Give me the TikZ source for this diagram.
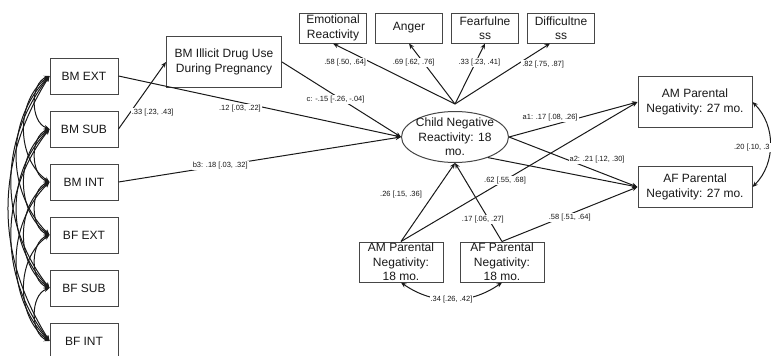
\documentclass[tikz,border=0pt]{standalone}
\usepackage{fontspec}
\setmainfont{Liberation Sans}
\usetikzlibrary{arrows.meta,positioning,shapes.geometric}
\definecolor{ink}{RGB}{25,25,25}
\definecolor{frame}{RGB}{70,70,70}
\tikzset{
  every picture/.style={color=ink, line width=1pt},
  box/.style={draw=frame, fill=white, inner sep=2pt, align=center, font=\fontsize{12}{14.5}\selectfont},
  obs/.style={box, minimum width=68pt, minimum height=36pt},
  ind/.style={box, minimum width=67pt, minimum height=30pt},
  parbox/.style={box, minimum width=84pt, minimum height=40pt, inner ysep=0pt},
  laterbox/.style={box, minimum width=114pt},
  latent/.style={box, ellipse, minimum width=107pt, minimum height=51pt, inner xsep=-2pt, inner ysep=-5pt},
  flow/.style={-{Stealth[length=5.5pt,width=4.5pt]}},
  corr/.style={{Stealth[length=5.5pt,width=4.5pt]}-{Stealth[length=5.5pt,width=4.5pt]}},
  lbl/.style={font=\fontsize{7.5}{9}\selectfont, fill=white, inner sep=1pt},
}

\begin{document}
\begin{tikzpicture}[x=1pt, y=1pt]
  \useasboundingbox (0,0) rectangle (771,-356);
  % parent problem columns
  \node[obs] (bmext) at (84,-76) {BM EXT};
  \node[obs, below=16pt of bmext] (bmsub) {BM SUB};
  \node[obs, below=16pt of bmsub] (bmint) {BM INT};
  \node[obs, below=16pt of bmint] (bfext) {BF EXT};
  \node[obs, below=16pt of bfext] (bfsub) {BF SUB};
  \node[obs, below=16pt of bfsub] (bfint) {BF INT};
  \node[box, minimum width=115pt, minimum height=51pt] (drug) at (224,-62) {BM Illicit Drug Use\\During Pregnancy};
  % latent and its indicators
  \node[latent] (child) at (455,-137) {Child Negative\\Reactivity: 18\\mo.};
  \node[ind] (emo) at (333,-28) {Emotional\\Reactivity};
  \node[ind, right=8pt of emo] (anger) {Anger};
  \node[ind, right=8pt of anger] (fear) {Fearfulne\\ss};
  \node[ind, right=8pt of fear] (diff) {Difficultne\\ss};
  \coordinate (crtop) at ([yshift=7pt]child.north);
  % parenting
  \node[parbox] (am18) at (401,-262) {AM Parental\\Negativity:\\18 mo.};
  \node[parbox] (af18) at (502,-262) {AF Parental\\Negativity:\\18 mo.};
  \node[laterbox, minimum height=51pt] (am27) at (695,-102) {AM Parental\\Negativity: 27 mo.};
  \node[laterbox, minimum height=41pt] (af27) at (695,-187) {AF Parental\\Negativity: 27 mo.};

  \draw[corr] (bmext.west) to[bend right=70] (bmsub.west); \draw[corr] (bmsub.west) to[bend right=70] (bmint.west);
  \draw[corr] (bmint.west) to[bend right=70] (bfext.west); \draw[corr] (bfext.west) to[bend right=70] (bfsub.west);
  \draw[corr] (bfsub.west) to[bend right=70] (bfint.west);
  \draw[corr] (bmext.west) to[bend right=55] (bmint.west); \draw[corr] (bmsub.west) to[bend right=55] (bfext.west);
  \draw[corr] (bmint.west) to[bend right=55] (bfsub.west); \draw[corr] (bfext.west) to[bend right=55] (bfint.west);
  \draw[corr] (bmext.west) to[bend right=45] (bfext.west); \draw[corr] (bmsub.west) to[bend right=45] (bfsub.west);
  \draw[corr] (bmint.west) to[bend right=45] (bfint.west);
  \draw[corr] (bmext.west) to[bend right=38] (bfsub.west); \draw[corr] (bmsub.west) to[bend right=38] (bfint.west);
  \draw[corr] (bmext.west) to[bend right=32] (bfint.west);

  \draw[flow] (bmsub.east) -- node[lbl, pos=0.25, anchor=west] {.33 [.23, .43]} (drug.west);
  \draw[flow] (bmext.east) -- node[lbl, pos=0.43, yshift=-6pt] {.12 [.03, .22]} (child.west);
  \draw[flow] (drug.east) -- node[lbl, pos=0.45, yshift=-4pt] {c: -.15 [-.26, -.04]} (child.west);
  \draw[flow] (bmint.east) -- node[lbl, pos=0.36] {b3: .18 [.03, .32]} (child.west);

  \draw[flow] (crtop) -- node[lbl, pos=0.9, yshift=-13pt] {.58 [.50, .64]} (emo.south);
  \draw[flow] (crtop) -- node[lbl, pos=0.68, xshift=-10pt] {.69 [.62, .76]} (anger.south);
  \draw[flow] (crtop) -- node[lbl, pos=0.68, xshift=4pt] {.33 [.23, .41]} (fear.south);
  \draw[flow] (crtop) -- node[lbl, pos=0.65, anchor=west, xshift=4pt] {.82 [.75, .87]} ([xshift=-11pt]diff.south);

  \draw[flow] (child.east) -- node[lbl, pos=0.32, above=3pt] {a1: .17 [.08, .26]} (am27.west);
  \draw[flow] (child.east) -- node[lbl, pos=0.46, anchor=west] {a2: .21 [.12, .30]} (af27.west);
  \draw[flow] (child.-32) -- (af27.west);

  \draw[flow] (am18.north) -- node[lbl, pos=0.6, anchor=east, xshift=-10pt] {.26 [.15, .36]} (child.south);
  \draw[flow] (am18.north) -- node[lbl, pos=0.44] {.62 [.55, .68]} (am27.west);
  \draw[flow] (af18.north) -- node[lbl, pos=0.28, xshift=-6pt] {.17 [.06, .27]} (child.south);
  \draw[flow] (af18.north) -- node[lbl, pos=0.5, yshift=-3pt] {.58 [.51, .64]} (af27.west);

  \draw[corr] (am18.south) to[bend right=35] node[lbl] {.34 [.26, .42]} (af18.south);
  \draw[corr] (am27.east) to[bend left=45] node[lbl, anchor=east, xshift=1pt, yshift=-3pt] {.20 [.10, .3} (af27.east);
\end{tikzpicture}
\end{document}
